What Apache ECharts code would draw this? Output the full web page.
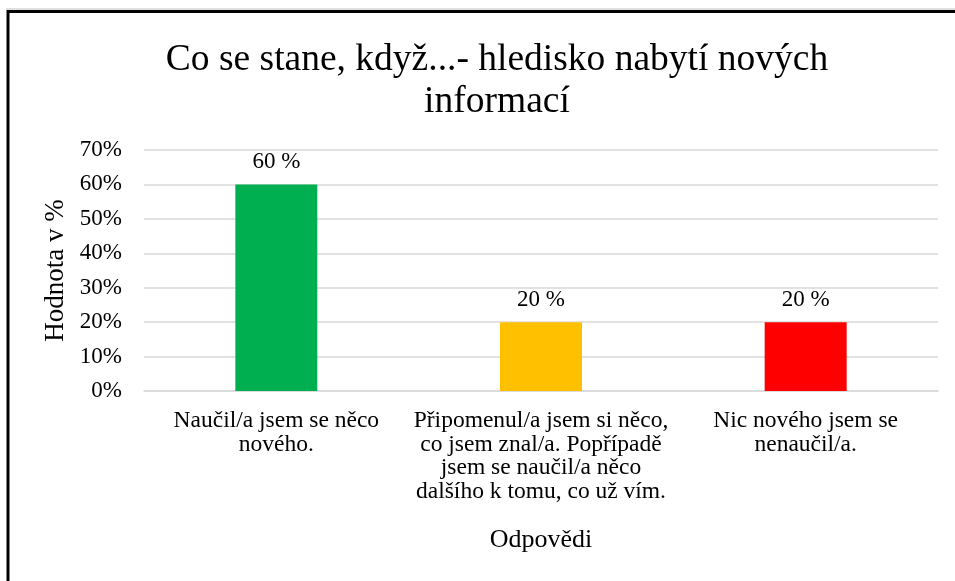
<!DOCTYPE html>
<html>
<head>
<meta charset="utf-8">
<script src="https://cdn.jsdelivr.net/npm/echarts@6/dist/echarts.min.js"></script>
<style>
  html, body { margin: 0; padding: 0; background: #fff; }
  #chart { width: 955px; height: 581px; }
</style>
</head>
<body>
<div id="chart"></div>
<script>
const titleText = 'Co se stane, když...- hledisko nabytí nových\ninformací';
const categories = [
  'Naučil/a jsem se něco\nnového.',
  'Připomenul/a jsem si něco,\nco jsem znal/a. Popřípadě\njsem se naučil/a něco\ndalšího k tomu, co už vím.',
  'Nic nového jsem se\nnenaučil/a.'
];
const values = [60, 20, 20];
const barColors = ['#00B050', '#FFC000', '#FF0000'];
const yAxisName = 'Hodnota v %';
const xAxisName = 'Odpovědi';
const yMin = 0, yMax = 70, yStep = 10;

const FONT = '"Liberation Serif", "Times New Roman", serif';

const chart = echarts.init(document.getElementById('chart'), null, { renderer: 'canvas' });
chart.setOption({
  animation: false,
  backgroundColor: '#fff',
  textStyle: { fontFamily: FONT, color: '#000' },
  title: {
    text: titleText,
    left: 492,
    top: 34,
    textAlign: 'center',
    textStyle: {
      fontFamily: FONT, fontWeight: 'normal', fontSize: 37.5, color: '#000',
      lineHeight: 42
    }
  },
  graphic: [{
    type: 'rect',
    shape: { x: 8, y: 11.5, width: 1000, height: 1000 },
    style: { fill: 'none', stroke: '#000', lineWidth: 3 },
    z: 100
  }, {
    type: 'line',
    shape: { x1: 6, y1: 9, x2: 960, y2: 9 },
    style: { stroke: '#bfbfbf', lineWidth: 1 },
    z: 99
  }],
  grid: { left: 144, right: 17, top: 150, bottom: 190, containLabel: false },
  xAxis: {
    type: 'category',
    data: categories,
    name: xAxisName,
    nameLocation: 'middle',
    nameGap: 136,
    nameTextStyle: { fontFamily: FONT, fontSize: 26, color: '#000' },
    axisLine: { show: true, lineStyle: { color: '#d9d9d9', width: 1.5 } },
    axisTick: { show: false },
    axisLabel: {
      interval: 0, margin: 18, fontFamily: FONT, fontSize: 23.5, color: '#000',
      lineHeight: 23.7, align: 'center'
    }
  },
  yAxis: {
    type: 'value',
    min: yMin, max: yMax, interval: yStep,
    name: yAxisName,
    nameLocation: 'middle',
    nameGap: 70,
    nameRotate: 90,
    nameTextStyle: { fontFamily: FONT, fontSize: 27, color: '#000' },
    axisLine: { show: false },
    axisTick: { show: false },
    axisLabel: { formatter: '{value}%', margin: 22, fontFamily: FONT, fontSize: 23, color: '#000' },
    splitLine: { show: true, lineStyle: { color: '#d9d9d9', width: 1.5 } }
  },
  series: [{
    type: 'bar',
    barWidth: 82,
    data: values.map((v, i) => ({ value: v, itemStyle: { color: barColors[i] } })),
    label: {
      show: true, position: 'top', distance: 11,
      formatter: '{c} %',
      fontFamily: FONT, fontSize: 23, color: '#000'
    }
  }]
});
</script>
</body>
</html>
